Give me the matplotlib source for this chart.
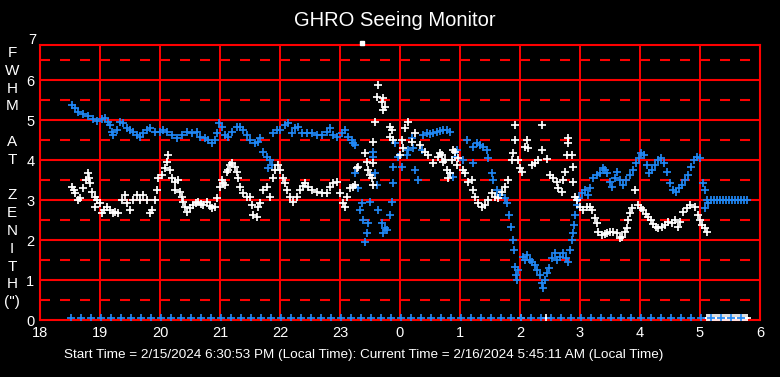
import matplotlib.pyplot as plt
import numpy as np

# time in minutes after 18:00 local, FWHM in arcsec
blue_min = [32, 35, 38, 43, 48, 53, 57, 62, 65, 68, 70, 72, 73, 77, 80, 83, 87, 90, 93, 97,
            100, 103, 107, 110, 115, 120, 123, 127, 132, 137, 142, 147, 152, 157, 160, 165, 168, 172, 175, 177,
            179, 182, 185, 188, 192, 197, 200, 203, 207, 210, 215, 218, 220, 223, 227, 228, 230, 232, 233, 237,
            240, 245, 248, 252, 255, 258, 262, 267, 272, 277, 282, 287, 290, 293, 297, 302, 305, 308, 312, 313,
            315, 315, 318, 320, 322, 323, 325, 327, 328, 330, 333, 333, 335, 337, 338, 342, 343, 345, 347, 350,
            352, 353, 353, 355, 358, 362, 367, 368, 372, 373, 375, 378, 382, 383, 387, 390, 393, 397, 400, 403,
            407, 410, 410, 413, 415, 417, 423, 427, 433, 433, 437, 440, 443, 447, 448, 452, 453, 457, 460, 465,
            467, 469, 471, 473, 474, 475, 476, 477, 478, 483, 485, 487, 490, 492, 495, 497, 500, 502, 503, 505,
            507, 509, 512, 515, 517, 520, 523, 526, 528, 530, 532, 533, 534, 535, 537, 539, 542, 545, 548, 550,
            553, 557, 560, 563, 565, 567, 570, 572, 575, 577, 580, 583, 586, 590, 593, 596, 599, 601, 604, 607,
            609, 612, 615, 618, 621, 624, 627, 630, 633, 636, 639, 642, 645, 648, 651, 654, 657, 660, 663, 665,
            665, 667, 668, 671, 674, 677, 680, 683, 686, 689, 692, 695, 698, 701, 704, 707]
blue_fwhm = [5.38, 5.30, 5.20, 5.15, 5.10, 5.02, 4.98, 5.02, 5.05, 4.95, 4.88, 4.70, 4.62, 4.75, 4.95, 4.92, 4.80, 4.75, 4.70, 4.62,
             4.58, 4.67, 4.75, 4.80, 4.70, 4.70, 4.75, 4.70, 4.62, 4.55, 4.62, 4.70, 4.67, 4.70, 4.58, 4.55, 4.50, 4.42, 4.50, 4.67,
             4.92, 4.83, 4.62, 4.58, 4.70, 4.83, 4.83, 4.75, 4.62, 4.50, 4.42, 4.45, 4.55, 4.20, 4.08, 3.80, 4.00, 3.88, 4.67, 4.75,
             4.75, 4.88, 4.92, 4.67, 4.80, 4.83, 4.67, 4.67, 4.67, 4.62, 4.62, 4.70, 4.80, 4.62, 4.58, 4.67, 4.75, 4.58, 4.50, 4.42,
             4.38, 3.67, 3.30, 2.75, 2.92, 2.50, 1.95, 2.17, 2.42, 2.95, 4.20, 4.08, 3.67, 3.38, 2.75, 2.42, 2.17, 2.30, 2.25, 2.62,
             2.95, 3.83, 3.42, 4.42, 4.08, 3.83, 4.12, 4.25, 4.55, 4.30, 3.75, 3.50, 4.25, 4.62, 4.67, 4.65, 4.67, 4.70, 4.72, 4.75,
             4.75, 4.70, 3.67, 3.58, 4.08, 4.25, 4.00, 4.50, 4.33, 3.92, 4.42, 4.38, 4.33, 4.25, 4.05, 3.67, 3.50, 3.25, 3.12, 3.05,
             2.92, 2.62, 2.33, 2.00, 1.75, 1.33, 1.12, 1.00, 1.25, 1.58, 1.50, 1.62, 1.50, 1.45, 1.38, 1.25, 1.12, 0.92, 0.80, 1.00,
             1.17, 1.30, 1.55, 1.67, 1.50, 1.58, 1.67, 1.55, 1.45, 1.75, 2.00, 2.17, 2.38, 2.62, 2.88, 3.05, 3.17, 3.25, 3.12, 3.30,
             3.55, 3.62, 3.67, 3.80, 3.75, 3.67, 3.45, 3.33, 3.55, 3.70, 3.50, 3.38, 3.50, 3.62, 3.75, 3.92, 4.05, 4.17, 4.12, 3.88,
             3.67, 3.75, 3.88, 4.00, 4.05, 3.92, 3.70, 3.42, 3.25, 3.20, 3.30, 3.38, 3.50, 3.62, 3.83, 4.00, 4.08, 4.05, 3.42, 3.25,
             2.80, 3.00, 2.92, 3.00, 3.00, 3.00, 3.00, 3.00, 3.00, 3.00, 3.00, 3.00, 3.00, 3.00, 3.00, 3.00]

white_min = [32, 34, 35, 38, 40, 43, 46, 48, 49, 50, 52, 55, 55, 57, 60, 62, 64, 67, 70, 73,
             75, 78, 82, 85, 87, 90, 93, 97, 100, 103, 107, 110, 112, 115, 117, 118, 122, 125, 127, 128,
             130, 132, 135, 135, 138, 140, 142, 143, 145, 147, 150, 153, 156, 158, 161, 163, 167, 170, 172, 175,
             177, 180, 182, 183, 185, 187, 188, 190, 192, 195, 197, 198, 200, 203, 207, 210, 212, 213, 217, 218,
             220, 223, 227, 230, 233, 235, 238, 240, 243, 245, 247, 250, 253, 257, 260, 263, 265, 268, 272, 277,
             282, 287, 290, 293, 297, 300, 303, 305, 307, 310, 313, 315, 317, 318, 325, 327, 328, 330, 332, 333,
             333, 333, 335, 337, 338, 342, 343, 343, 345, 350, 350, 352, 353, 360, 362, 363, 365, 368, 372, 375,
             380, 385, 388, 393, 398, 400, 402, 403, 405, 407, 408, 410, 412, 413, 415, 417, 418, 423, 425, 428,
             432, 433, 435, 438, 442, 445, 448, 452, 455, 458, 462, 465, 468, 472, 473, 475, 475, 478, 480, 482,
             485, 487, 488, 492, 495, 498, 502, 502, 507, 510, 513, 517, 518, 522, 523, 525, 527, 528, 528, 532,
             533, 533, 535, 537, 540, 543, 547, 550, 552, 555, 557, 558, 562, 565, 567, 570, 573, 577, 580, 582,
             585, 587, 588, 590, 592, 595, 598, 601, 603, 606, 608, 611, 613, 616, 618, 622, 625, 628, 632, 635,
             638, 640, 643, 647, 650, 655, 658, 660, 662, 665, 667]
white_fwhm = [3.33, 3.25, 3.17, 3.00, 3.05, 3.30, 3.50, 3.67, 3.55, 3.42, 3.20, 3.08, 2.83, 3.00, 2.92, 2.67, 2.75, 2.83, 2.75, 2.67,
              2.70, 2.67, 3.00, 3.12, 2.92, 2.75, 3.00, 3.12, 3.00, 3.12, 3.00, 2.67, 2.75, 3.00, 3.25, 3.55, 3.62, 3.80, 3.95, 4.12,
              3.75, 3.55, 3.45, 3.25, 3.50, 3.20, 3.08, 2.95, 2.83, 2.70, 2.80, 2.88, 2.92, 2.95, 2.90, 2.88, 2.95, 2.85, 2.80, 2.83,
              3.05, 3.33, 3.50, 3.42, 3.38, 3.70, 3.75, 3.88, 3.92, 3.83, 3.70, 3.55, 3.33, 3.17, 3.08, 3.08, 2.88, 2.62, 2.58, 2.83,
              2.92, 3.25, 3.33, 3.08, 3.55, 3.75, 3.88, 3.75, 3.55, 3.42, 3.25, 3.08, 2.95, 3.08, 3.25, 3.35, 3.42, 3.33, 3.25, 3.20,
              3.17, 3.17, 3.33, 3.42, 3.45, 3.17, 2.92, 2.83, 3.08, 3.30, 3.33, 3.38, 3.80, 3.83, 4.17, 3.95, 3.75, 3.62, 3.55, 4.45,
              3.92, 3.38, 4.95, 5.58, 5.88, 5.45, 5.55, 5.25, 5.33, 4.83, 4.58, 4.75, 4.50, 4.12, 4.50, 4.30, 4.80, 4.95, 4.45, 4.67,
              4.38, 4.20, 4.12, 3.92, 4.08, 4.17, 4.12, 3.95, 4.00, 3.75, 3.55, 3.67, 4.00, 4.25, 4.20, 3.88, 4.05, 3.75, 3.67, 3.45,
              3.50, 3.25, 3.08, 2.92, 2.83, 2.88, 3.00, 3.17, 3.08, 3.05, 3.20, 3.33, 3.50, 4.00, 4.17, 4.88, 4.50, 4.00, 3.80, 3.70,
              4.33, 4.50, 4.30, 3.88, 3.92, 4.00, 4.88, 4.25, 4.02, 3.62, 3.55, 3.45, 3.30, 3.20, 3.50, 3.70, 4.12, 4.55, 4.42, 4.12,
              3.83, 3.45, 3.08, 3.00, 2.83, 2.75, 2.83, 2.83, 2.75, 2.55, 2.42, 2.20, 2.12, 2.15, 2.17, 2.20, 2.20, 2.17, 2.05, 2.08,
              2.20, 2.30, 2.50, 2.67, 2.80, 3.25, 2.88, 2.80, 2.75, 2.65, 2.58, 2.50, 2.40, 2.33, 2.30, 2.33, 2.38, 2.45, 2.42, 2.50,
              2.33, 2.45, 2.70, 2.80, 2.88, 2.83, 2.62, 2.50, 2.38, 2.30, 2.20]

# off-scale point above the top of the plot
white_high_min = [322]
white_high_fwhm = [6.92]

# status row along the bottom
bottom_blue_min = [31, 41, 51, 61, 71, 81, 91, 101, 111, 121, 131, 141, 151, 161, 171, 181, 191, 201, 211, 221,
                   231, 241, 251, 261, 271, 281, 291, 301, 311, 321, 331, 341, 351, 361, 371, 381, 391, 401, 411, 421,
                   431, 441, 451, 461, 471, 481, 491, 501, 511, 521, 531, 541, 551, 561, 571, 581, 591, 601, 611, 621,
                   631, 641, 651, 661, 671, 681, 691, 701]
bottom_white_min = [481, 506, 667, 669, 671, 673, 675, 677, 679, 681, 683, 685, 687, 689, 691, 693, 695, 697, 699,
                    701, 703, 705, 707]
bottom_level = 0.06

hour_ticks = [18, 19, 20, 21, 22, 23, 24, 25, 26, 27, 28, 29, 30]
hour_labels = ['18', '19', '20', '21', '22', '23', '0', '1', '2', '3', '4', '5', '6']
ylabel_letters = ['F', 'W', 'H', 'M', '', 'A', 'T', '', 'Z', 'E', 'N', 'I', 'T', 'H', '(")']

BLUE = '#2088F5'
RED = '#FF0000'
narrow = ['Liberation Sans Narrow', 'Liberation Sans', 'DejaVu Sans']


def to_hours(minutes):
    return 18 + np.asarray(minutes) / 60.0


fig = plt.figure(figsize=(7.8, 3.77), dpi=100, facecolor='black')
ax = fig.add_axes([40 / 780, 57 / 377, 720 / 780, 275 / 377], facecolor='black')
ax.set_xlim(18, 30)
ax.set_ylim(0, 6.875)

# grid: solid on whole units, dashed on halves
for y in range(1, 7):
    ax.axhline(y, color=RED, lw=1.5, zorder=1)
for y in np.arange(0.5, 6.6, 1.0):
    ax.axhline(y, color=RED, lw=1.5, ls=(0, (4.8, 4.8)), zorder=1)
for x in hour_ticks[1:-1]:
    ax.axvline(x, color=RED, lw=1.4, zorder=1)

for s in ax.spines.values():
    s.set_color(RED)
    s.set_linewidth(1.5)

mk = dict(marker='+', linestyle='none', ms=5.6, mew=1.25, zorder=3)
ax.plot(to_hours(blue_min), blue_fwhm, color=BLUE, **mk)
ax.plot(to_hours(white_min), white_fwhm, color='white', **mk)
ax.plot(to_hours(white_high_min), white_high_fwhm, color='white', clip_on=False,
        marker='s', linestyle='none', ms=3.5, zorder=3)
ax.plot(to_hours(bottom_white_min), [bottom_level] * len(bottom_white_min), color='white', **mk)
ax.plot(to_hours(bottom_blue_min), [bottom_level] * len(bottom_blue_min), color=BLUE, **mk)

ax.set_xticks(hour_ticks)
ax.set_xticklabels(hour_labels)
ax.set_yticks(range(0, 7))
ax.tick_params(length=0, colors='white', labelsize=10.5, pad=4)
for lab in ax.get_xticklabels() + ax.get_yticklabels():
    lab.set_family(narrow)
ax.text(-0.005, 7.0, '7', transform=ax.get_yaxis_transform(), ha='right', va='center',
        color='white', fontsize=10.5, family=narrow)

for i, ch in enumerate(ylabel_letters):
    fig.text(12 / 780, 1 - (53 + 17.8 * i) / 377, ch, color='white', fontsize=11,
             ha='center', va='center', family=narrow)

fig.text(395 / 780, 1 - 20 / 377, 'GHRO Seeing Monitor', color='white', fontsize=14.5,
         ha='center', va='center', family=['Liberation Sans', 'DejaVu Sans'])
fig.text(364 / 780, 1 - 355 / 377,
         'Start Time = 2/15/2024 6:30:53 PM (Local Time): Current Time = 2/16/2024 5:45:11 AM (Local Time)',
         color='white', fontsize=9.7, ha='center', va='center', family=narrow)

fig.savefig('out.png', dpi=100, facecolor='black')
